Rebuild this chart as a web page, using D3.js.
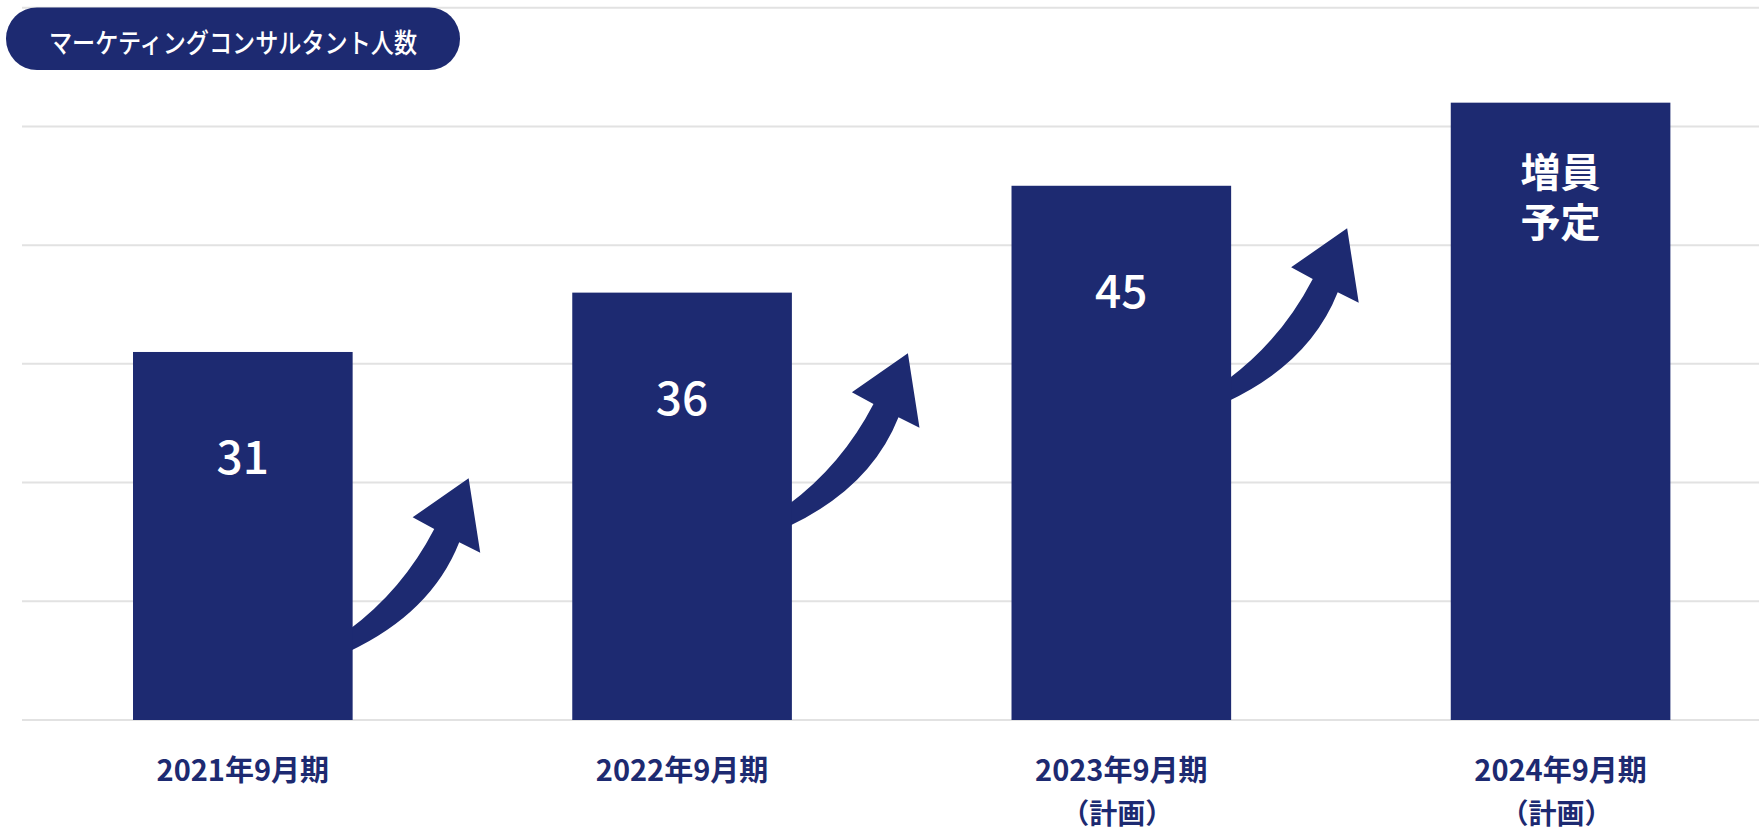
<!DOCTYPE html>
<html>
<head>
<meta charset="utf-8">
<script src="https://cdn.jsdelivr.net/npm/d3@7"></script>
<style>
body { margin:0; background:#fff; }
svg { display:block; font-family:"Noto Sans CJK JP","Noto Sans",sans-serif; }
</style>
</head>
<body>
<svg id="chart" width="1759" height="833"></svg>
<script>
var chartTitle = "マーケティングコンサルタント人数";
var periods = ["2021年9月期", "2022年9月期", "2023年9月期", "2024年9月期"];
var periodNotes = ["", "", "（計画）", "（計画）"];
var consultants = [31, 36, 45, 52];
var barLabels = [["31"], ["36"], ["45"], ["増員", "予定"]];
var yTicks = [0, 10, 20, 30, 40, 50, 60];

var navy = "#1d2a71";
var svg = d3.select("#chart");

var x = d3.scaleBand().domain(periods).range([23.2, 1780.2]).paddingInner(0.5).paddingOuter(0.25);
var y = d3.scaleLinear().domain([0, 60]).range([720, 7.7]);

// grid
svg.append("g").selectAll("line")
	.data(yTicks)
	.enter()
	.append("line")
	.attr("x1", 22)
	.attr("x2", 1759)
	.attr("y1", function(d) { return y(d); })
	.attr("y2", function(d) { return y(d); })
	.attr("stroke", "#e2e2e2")
	.attr("stroke-width", 2);

// curved arrows between bars (drawn under the bars)
var arrowPath = "M-4,0 Q50,-40 81.6,-101 L60,-112.7 L116,-151.7 L127.6,-77.3 L106.6,-87.7 Q78.7,-17 -4,21.7 Z";
svg.append("g").selectAll("path")
	.data(periods.slice(0, periods.length - 1))
	.enter()
	.append("path")
	.attr("d", arrowPath)
	.attr("fill", navy)
	.attr("transform", function(d, i) {
		return "translate(" + (x(d) + x.bandwidth()) + "," + (y(0) - 90 - i * 125) + ")";
	});

// bars
svg.append("g").selectAll("rect")
	.data(consultants)
	.enter()
	.append("rect")
	.attr("x", function(d, i) { return x(periods[i]); })
	.attr("y", function(d) { return y(d); })
	.attr("width", x.bandwidth())
	.attr("height", function(d) { return y(0) - y(d); })
	.attr("fill", navy);

// labels inside bars
consultants.forEach(function(v, i) {
	var cx = x(periods[i]) + x.bandwidth() / 2;
	var lines = barLabels[i];
	if (lines.length == 1) {
		svg.append("text")
			.attr("x", cx)
			.attr("y", y(v) + 122)
			.attr("text-anchor", "middle")
			.attr("fill", "#fff")
			.attr("font-size", 46)
			.attr("font-weight", 500)
			.text(lines[0]);
	} else {
		var t = svg.append("text")
			.attr("text-anchor", "middle")
			.attr("fill", "#fff")
			.attr("font-size", 40)
			.attr("font-weight", 700);
		lines.forEach(function(s, j) {
			t.append("tspan")
				.attr("x", cx)
				.attr("y", y(v) + 84 + j * 50)
				.text(s);
		});
	}
});

// category labels
var cat = svg.append("g").selectAll("g")
	.data(periods)
	.enter()
	.append("g");
cat.append("text")
	.attr("x", function(d) { return x(d) + x.bandwidth() / 2; })
	.attr("y", 768)
	.attr("dominant-baseline", "central")
	.attr("text-anchor", "middle")
	.attr("fill", navy)
	.attr("font-size", 29)
	.attr("font-weight", 700)
	.text(function(d) { return d; });
cat.append("text")
	.attr("x", function(d) { return x(d) + x.bandwidth() / 2 - 4; })
	.attr("y", 812)
	.attr("dominant-baseline", "central")
	.attr("text-anchor", "middle")
	.attr("fill", navy)
	.attr("font-size", 28)
	.attr("font-weight", 700)
	.text(function(d, i) { return periodNotes[i]; });

// title pill
svg.append("rect")
	.attr("x", 6)
	.attr("y", 7.5)
	.attr("width", 454)
	.attr("height", 62.5)
	.attr("rx", 31)
	.attr("fill", navy);
svg.append("text")
	.attr("x", 49)
	.attr("y", 41)
	.attr("dominant-baseline", "central")
	.attr("fill", "#fff")
	.attr("font-size", 27)
	.attr("font-weight", 500)
	.attr("textLength", 368)
	.attr("lengthAdjust", "spacingAndGlyphs")
	.text(chartTitle);
</script>
</body>
</html>
